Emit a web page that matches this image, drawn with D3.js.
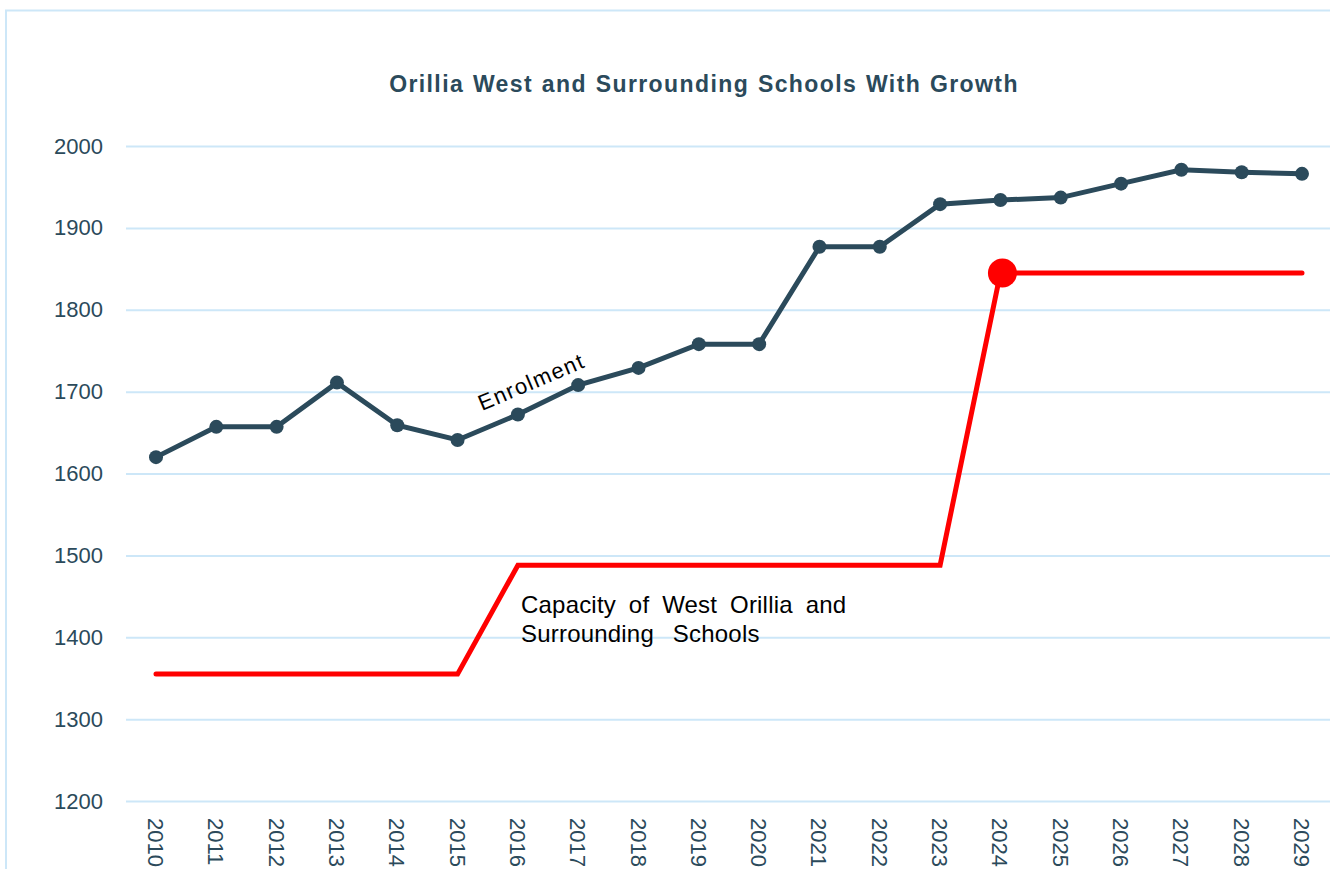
<!DOCTYPE html>
<html>
<head>
<meta charset="utf-8">
<script src="https://cdn.jsdelivr.net/npm/d3@7"></script>
<style>
  body { margin: 0; background: #fff; }
  text { font-family: "Liberation Sans", Arial, sans-serif; }
</style>
</head>
<body>
<div id="chart"></div>
<script>
// Data
const years = [2010, 2011, 2012, 2013, 2014, 2015, 2016, 2017, 2018, 2019,
               2020, 2021, 2022, 2023, 2024, 2025, 2026, 2027, 2028, 2029];
const enrolment = [1620, 1657, 1657, 1711, 1659, 1641, 1672, 1708, 1729, 1758,
                   1758, 1877, 1877, 1929, 1934, 1937, 1954, 1971, 1968, 1966];
const capacity = [1355, 1355, 1355, 1355, 1355, 1355, 1488, 1488, 1488, 1488,
                  1488, 1488, 1488, 1488, 1845, 1845, 1845, 1845, 1845, 1845];
const y_ticks = [1200, 1300, 1400, 1500, 1600, 1700, 1800, 1900, 2000];
const title = "Orillia West and Surrounding Schools With Growth";

const chart_width = 1330;
const chart_height = 869;
const dark = "#2b4a5b";
const grid = "#cde7f8";

const svg = d3.select("#chart")
    .append("svg")
    .attr("width", chart_width)
    .attr("height", chart_height);

// Frame
svg.append("rect")
    .attr("x", 6)
    .attr("y", 10.5)
    .attr("width", 1340)
    .attr("height", 900)
    .attr("fill", "none")
    .attr("stroke", grid)
    .attr("stroke-width", 2);

// Scales
const x_scale = d3.scalePoint()
    .domain(years)
    .range([156, 1302]);

const y_scale = d3.scaleLinear()
    .domain([1200, 2000])
    .range([801, 146]);

// Title
svg.append("text")
    .attr("x", 704)
    .attr("y", 92)
    .attr("text-anchor", "middle")
    .attr("font-size", 23)
    .attr("font-weight", "bold")
    .attr("letter-spacing", 1.4)
    .attr("word-spacing", 1)
    .attr("fill", dark)
    .text(title);

// Y axis (gridlines + labels)
const y_axis = d3.axisLeft(y_scale)
    .tickValues(y_ticks)
    .tickSize(-(1330 - 126))
    .tickPadding(23)
    .tickFormat(d3.format("d"));

svg.append("g")
    .attr("transform", "translate(126,0)")
    .call(y_axis)
    .call(g => g.select(".domain").remove())
    .call(g => g.selectAll("line").attr("stroke", grid).attr("stroke-width", 2))
    .call(g => g.selectAll("text")
        .attr("font-size", 22)
        .attr("font-family", "Liberation Sans, Arial, sans-serif")
        .attr("fill", dark));

// X axis labels
const x_axis = d3.axisBottom(x_scale)
    .tickSize(0)
    .tickPadding(0);

svg.append("g")
    .attr("transform", "translate(0,801)")
    .call(x_axis)
    .call(g => g.select(".domain").remove())
    .call(g => g.selectAll("text")
        .attr("font-size", 22)
        .attr("font-family", "Liberation Sans, Arial, sans-serif")
        .attr("fill", dark)
        .attr("text-anchor", "start")
        .attr("dy", null)
        .attr("y", 0)
        .attr("dominant-baseline", "central")
        .attr("transform", "translate(-1,17) rotate(90)"));

// Lines
const enrol_data = years.map((y, i) => ({year: y, num: enrolment[i]}));
const cap_data = years.map((y, i) => ({year: y, num: capacity[i]}));

const line = d3.line()
    .x(d => x_scale(d.year))
    .y(d => y_scale(d.num));

svg.append("path")
    .datum(cap_data)
    .attr("fill", "none")
    .attr("stroke", "#ff0000")
    .attr("stroke-width", 5)
    .attr("stroke-linecap", "round")
    .attr("d", line);

svg.append("circle")
    .attr("cx", x_scale(2024) + 2)
    .attr("cy", y_scale(capacity[years.indexOf(2024)]))
    .attr("r", 14.5)
    .attr("fill", "#ff0000");

svg.append("path")
    .datum(enrol_data)
    .attr("fill", "none")
    .attr("stroke", dark)
    .attr("stroke-width", 5)
    .attr("d", line);

svg.selectAll(".dot")
    .data(enrol_data)
    .enter()
    .append("circle")
    .attr("class", "dot")
    .attr("cx", d => x_scale(d.year))
    .attr("cy", d => y_scale(d.num))
    .attr("r", 7)
    .attr("fill", dark);

// Annotations
svg.append("text")
    .attr("transform", "translate(482,411) rotate(-23)")
    .attr("font-size", 22)
    .attr("letter-spacing", 1.5)
    .attr("fill", "#000")
    .text("Enrolment");

const cap_label = svg.append("text")
    .attr("font-size", 24)
    .attr("letter-spacing", 0.2)
    .attr("word-spacing", 6)
    .attr("fill", "#000");

cap_label.append("tspan")
    .attr("x", 521)
    .attr("y", 613)
    .text("Capacity of West Orillia and");

cap_label.append("tspan")
    .attr("x", 521)
    .attr("y", 642)
    .attr("word-spacing", 12)
    .text("Surrounding Schools");
</script>
</body>
</html>
